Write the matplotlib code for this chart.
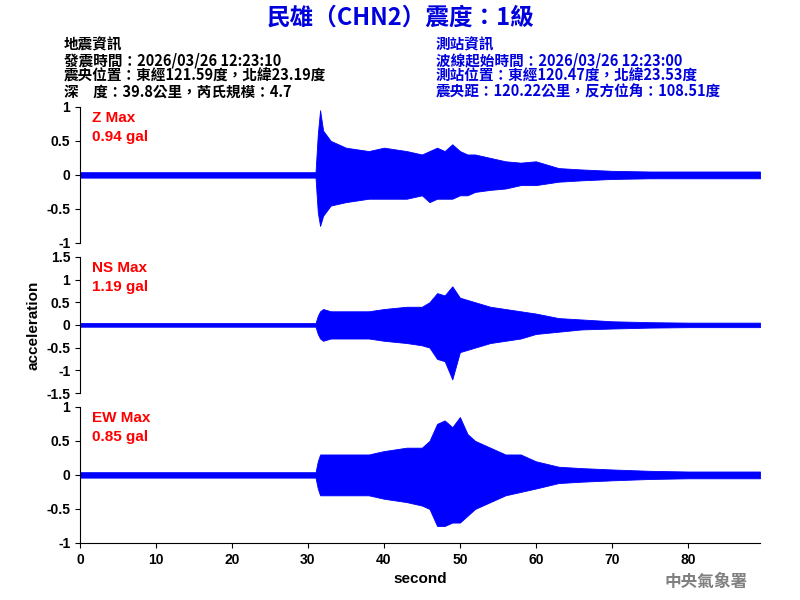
import matplotlib
matplotlib.use("Agg")
import matplotlib.pyplot as plt

plt.rcParams['font.family'] = ['Noto Sans CJK TC', 'DejaVu Sans']

# Envelope of the traces (time in s, upper / lower limits in gal)
t = [0, 31, 31.3, 31.6, 32, 33, 35, 38, 40, 43, 45, 46, 47, 48, 49, 50, 51, 52, 54, 56, 58, 60, 63, 66, 70, 75, 80, 89.5]
z_up = [0.04, 0.04, 0.6, 0.95, 0.65, 0.5, 0.4, 0.35, 0.4, 0.35, 0.3, 0.35, 0.4, 0.35, 0.45, 0.35, 0.3, 0.3, 0.25, 0.2, 0.18, 0.2, 0.1, 0.08, 0.06, 0.05, 0.05, 0.05]
z_lo = [-0.04, -0.04, -0.55, -0.75, -0.6, -0.45, -0.4, -0.35, -0.35, -0.35, -0.3, -0.4, -0.35, -0.35, -0.35, -0.3, -0.3, -0.25, -0.22, -0.2, -0.15, -0.15, -0.1, -0.08, -0.06, -0.05, -0.05, -0.05]
ns_up = [0.04, 0.04, 0.2, 0.3, 0.35, 0.3, 0.3, 0.3, 0.35, 0.4, 0.4, 0.5, 0.7, 0.65, 0.85, 0.6, 0.55, 0.5, 0.4, 0.35, 0.3, 0.25, 0.15, 0.12, 0.08, 0.06, 0.05, 0.05]
ns_lo = [-0.04, -0.04, -0.2, -0.3, -0.35, -0.3, -0.3, -0.3, -0.35, -0.4, -0.45, -0.5, -0.75, -0.8, -1.2, -0.6, -0.55, -0.5, -0.4, -0.35, -0.3, -0.2, -0.15, -0.1, -0.08, -0.06, -0.05, -0.05]
ew_up = [0.04, 0.04, 0.2, 0.3, 0.3, 0.3, 0.3, 0.3, 0.35, 0.4, 0.4, 0.5, 0.75, 0.8, 0.7, 0.85, 0.6, 0.5, 0.4, 0.3, 0.3, 0.2, 0.12, 0.1, 0.08, 0.06, 0.05, 0.05]
ew_lo = [-0.04, -0.04, -0.2, -0.3, -0.3, -0.3, -0.3, -0.3, -0.35, -0.4, -0.45, -0.5, -0.75, -0.75, -0.7, -0.7, -0.6, -0.5, -0.4, -0.3, -0.25, -0.2, -0.12, -0.1, -0.08, -0.06, -0.05, -0.05]

labels = ["Z Max\n0.94 gal", "NS Max\n1.19 gal", "EW Max\n0.85 gal"]
ylims = [1, 1.5, 1]
yticks = [[-1, -0.5, 0, 0.5, 1], [-1.5, -1, -0.5, 0, 0.5, 1, 1.5], [-1, -0.5, 0, 0.5, 1]]
traces = [(z_up, z_lo), (ns_up, ns_lo), (ew_up, ew_lo)]
num_font = 'Liberation Sans'

fig = plt.figure(figsize=(8, 6), dpi=100)
bottoms = [0.595, 0.345, 0.095]
for i in range(3):
    ax = fig.add_axes([0.1, bottoms[i], 0.85, 0.227])
    up, lo = traces[i]
    ax.fill_between(t, lo, up, color='blue', linewidth=0.6, edgecolor='blue')
    ax.set_xlim(0, 89.5)
    ax.set_ylim(-ylims[i], ylims[i])
    ax.set_yticks(yticks[i])
    ax.set_yticklabels([f"{v:g}" for v in yticks[i]], fontweight='bold', fontsize=10, family=num_font)
    ax.spines['top'].set_visible(False)
    ax.spines['right'].set_visible(False)
    ax.text(0.017, 0.97, labels[i], transform=ax.transAxes, color='red',
            fontsize=11, fontweight='bold', va='top', family=num_font, linespacing=1.5)
    if i < 2:
        ax.spines['bottom'].set_visible(False)
        ax.set_xticks([])
    else:
        ax.set_xticks(range(0, 90, 10))
        ax.set_xticklabels([str(v) for v in range(0, 90, 10)], fontweight='bold', fontsize=10, family=num_font)
        ax.set_xlabel("second", fontsize=11, fontweight='bold', family=num_font)
    if i == 1:
        ax.set_ylabel("acceleration", fontsize=11, fontweight='bold', family=num_font)

fig.text(0.5, 0.97, "民雄（CHN2）震度：1級", color='#0000dd', fontsize=17,
         fontweight='bold', ha='center', va='center')
left = "地震資訊\n發震時間：2026/03/26 12:23:10\n震央位置：東經121.59度，北緯23.19度\n深　度：39.8公里，芮氏規模：4.7"
right = "測站資訊\n波線起始時間：2026/03/26 12:23:00\n測站位置：東經120.47度，北緯23.53度\n震央距：120.22公里，反方位角：108.51度"
fig.text(0.08, 0.94, left, color='black', fontsize=10.5, fontweight='bold', va='top', linespacing=1.0)
fig.text(0.545, 0.94, right, color='#0000dd', fontsize=10.5, fontweight='bold', va='top', linespacing=1.0)
fig.text(0.935, 0.03, "中央氣象署", color='gray', fontsize=12, fontweight='bold', ha='right', va='center')

fig.savefig("out.png", dpi=100)
